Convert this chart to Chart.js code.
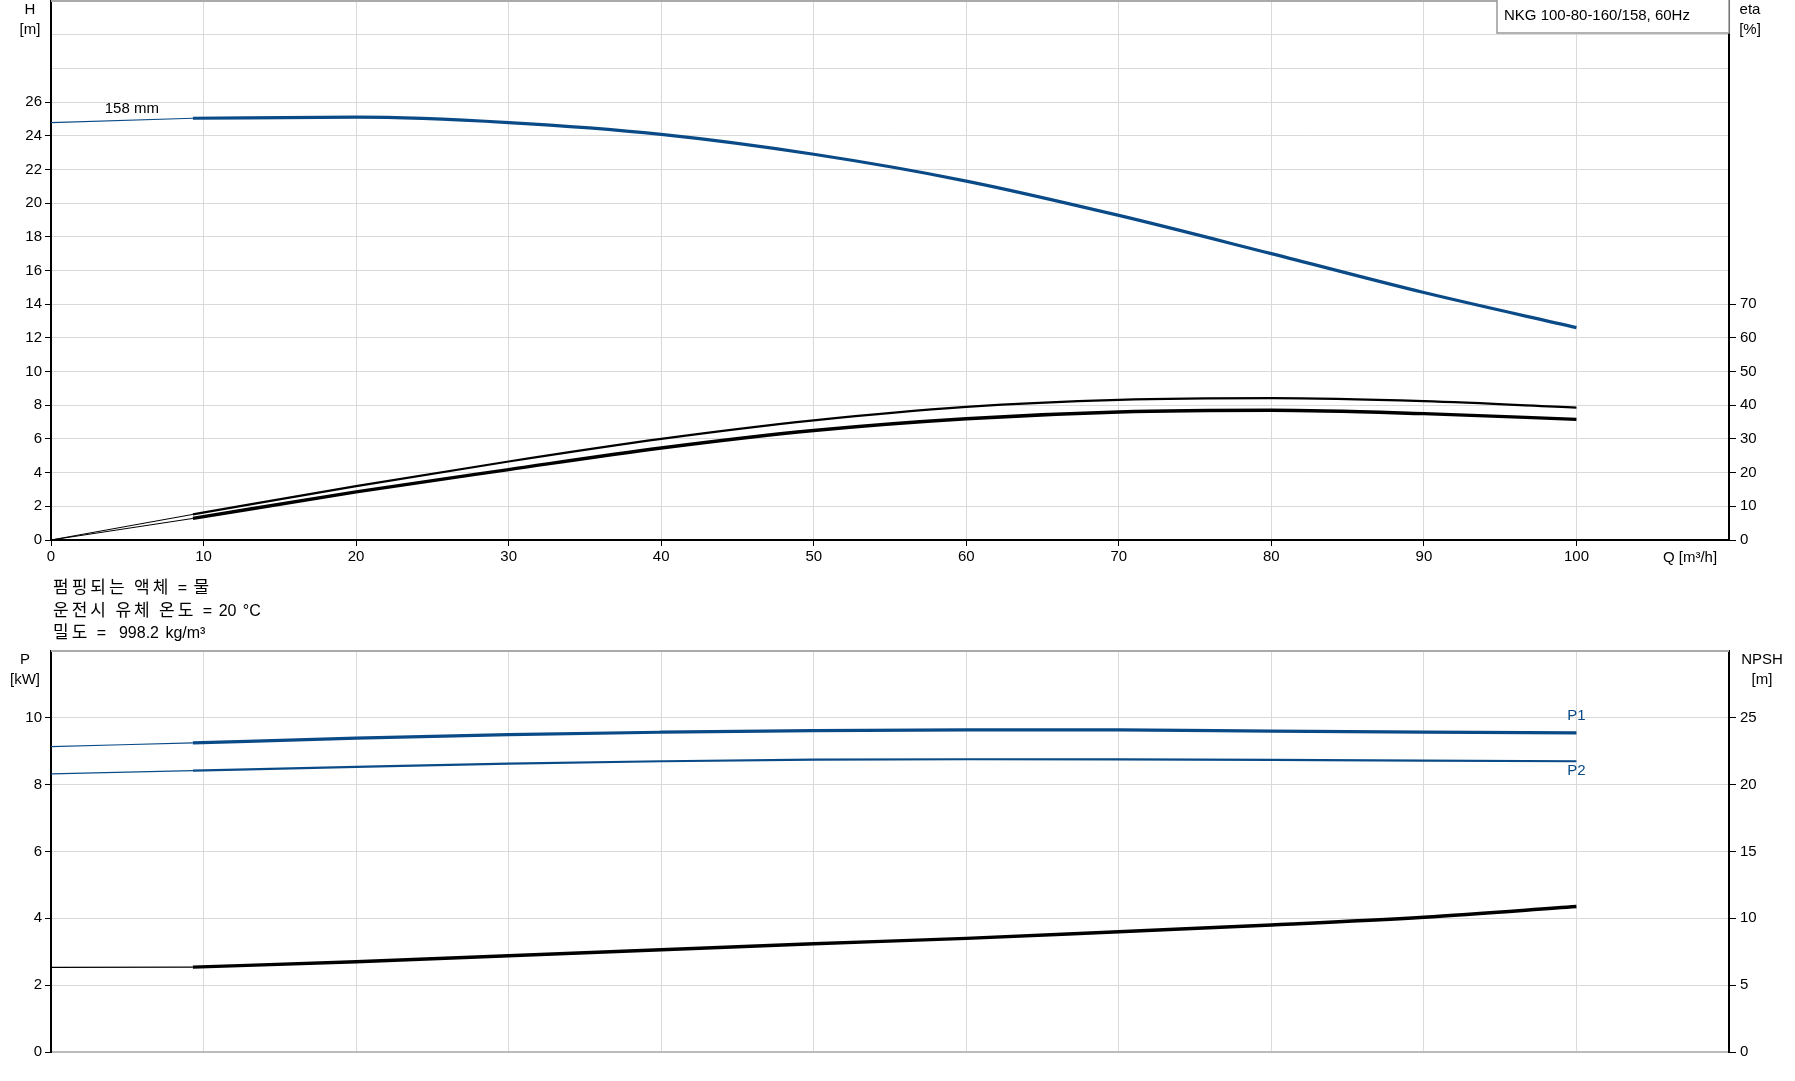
<!DOCTYPE html>
<html lang="ko">
<head>
<meta charset="UTF-8">
<title>NKG 100-80-160/158</title>
<script src="https://cdn.jsdelivr.net/npm/chart.js"></script>
<style>
  body { margin: 0; background: #fff; }
  canvas { position: absolute; left: 0; }
  #top-chart { top: 0; }
  #bottom-chart { top: 650px; }
  #notes {
    position: absolute; left: 53px; top: 575px;
    font: 16px/22px "Liberation Sans", Arial, sans-serif;
    word-spacing: 2px; color: #000; white-space: pre;
  }
  #notes div { height: 22.5px; }
  #notes .ko { font-family: "Noto Sans CJK KR", sans-serif; font-size: 17px; letter-spacing: 3px; }
</style>
</head>
<body>
<canvas id="top-chart" width="1795" height="650"></canvas>
<canvas id="bottom-chart" width="1795" height="431"></canvas>
<div id="notes"></div>

<script>
// flow points: thin part (outside range) and thick part
const qLow = [0, 9.3];
const qMain = [9.3, 20, 30, 40, 50, 60, 70, 80, 90, 100];

// head H [m]
const headLow = [24.78, 25.04];
const headMain = [25.04, 25.1, 24.78, 24.08, 22.9, 21.31, 19.27, 17.0, 14.69, 12.61];

// efficiencies [%]
const etaLow = [0, 7.6];
const etaMain = [7.6, 16.0, 23.3, 30.0, 35.5, 39.5, 41.6, 42.1, 41.2, 39.3];
const etaTotLow = [0, 6.4];
const etaTotMain = [6.4, 14.3, 20.9, 27.3, 32.5, 36.0, 38.0, 38.5, 37.5, 35.8];

// power [kW]
const p1Low = [9.14, 9.25];
const p1Main = [9.25, 9.39, 9.50, 9.57, 9.62, 9.64, 9.64, 9.60, 9.57, 9.55];
const p2Low = [8.32, 8.42];
const p2Main = [8.42, 8.53, 8.63, 8.70, 8.75, 8.76, 8.755, 8.74, 8.72, 8.70];

// NPSH [m]
const npshLow = [6.33, 6.35];
const npshMain = [6.35, 6.75, 7.2, 7.65, 8.1, 8.5, 9.0, 9.5, 10.08, 10.88];

const fluidNotes = ['펌핑되는 액체 = 물', '운전시 유체 온도 = 20 °C', '밀도 =  998.2 kg/m³'];

const BLUE = '#0a4b87';
const GRID = '#d9d9d9';
const FONT = '"Liberation Sans", Arial, sans-serif';

function pts(xs, ys) {
    return xs.map((x, i) => ({ x: x, y: ys[i] }));
}

function line(xs, ys, color, width, axis) {
    return {
        data: pts(xs, ys),
        borderColor: color,
        borderWidth: width,
        pointRadius: 0,
        cubicInterpolationMode: 'monotone',
        yAxisID: axis,
        fill: false
    };
}

function tickFont() {
    return { family: FONT, size: 15 };
}

// hide label + tick mark above a limit
function limitTicks(limit) {
    return {
        labels: v => (v <= limit ? v : ''),
        color: c => (c.tick && c.tick.value <= limit ? '#000' : 'rgba(0,0,0,0)')
    };
}

// fixed axis width, no extra room for the end labels
function fixWidth(w) {
    return s => {
        s.width = w;
        s.paddingTop = 0;
        s.paddingBottom = 0;
    };
}

function text(ctx, str, x, y, align, color, size, family) {
    ctx.save();
    ctx.font = size + 'px ' + (family || FONT);
    ctx.fillStyle = color || '#000';
    ctx.textAlign = align || 'center';
    ctx.textBaseline = 'middle';
    ctx.fillText(str, x, y);
    ctx.restore();
}

// fluid notes below the upper chart (hangul runs get their own spacing)
const notes = document.getElementById('notes');
fluidNotes.forEach(s => {
    const row = document.createElement('div');
    s.split(/([\uAC00-\uD7A3]+)/).forEach(run => {
        if (!run) return;
        if (/[\uAC00-\uD7A3]/.test(run)) {
            const sp = document.createElement('span');
            sp.className = 'ko';
            sp.textContent = run;
            row.appendChild(sp);
        } else {
            row.appendChild(document.createTextNode(run));
        }
    });
    notes.appendChild(row);
});

// ---------- upper chart: H and eta ----------
const hLim = limitTicks(26);
const etaLim = limitTicks(70);
const qLim = limitTicks(100);

const topLabels = {
    id: 'topLabels',
    afterDraw(chart) {
        const ctx = chart.ctx;
        const a = chart.chartArea;
        const xs = chart.scales.x;
        const yh = chart.scales.yH;

        // grey top border
        ctx.save();
        ctx.strokeStyle = '#aaa';
        ctx.lineWidth = 2;
        ctx.beginPath();
        ctx.moveTo(a.left, a.top);
        ctx.lineTo(a.right, a.top);
        ctx.stroke();

        // model box
        ctx.fillStyle = '#fff';
        ctx.fillRect(1497, 0, a.right - 1497, 33);
        ctx.strokeStyle = '#999';
        ctx.lineWidth = 1.5;
        ctx.strokeRect(1497, -1, a.right - 1497, 34);
        ctx.restore();
        text(ctx, 'NKG 100-80-160/158, 60Hz', 1504, 16, 'left', '#000', 15);

        text(ctx, 'H', 30, 10);
        text(ctx, '[m]', 30, 30);
        text(ctx, 'eta', 1750, 10);
        text(ctx, '[%]', 1750, 30);
        text(ctx, 'Q [m³/h]', 1690, 558);

        text(ctx, '158 mm', xs.getPixelForValue(5.3), yh.getPixelForValue(25.6));
    }
};

new Chart(document.getElementById('top-chart'), {
    type: 'line',
    data: {
        datasets: [
            line(qLow, headLow, BLUE, 1.2, 'yH'),
            line(qMain, headMain, BLUE, 3.2, 'yH'),
            line(qLow, etaLow, '#000', 1, 'yEta'),
            line(qMain, etaMain, '#000', 2.2, 'yEta'),
            line(qLow, etaTotLow, '#000', 1, 'yEta'),
            line(qMain, etaTotMain, '#000', 3.4, 'yEta')
        ]
    },
    options: {
        responsive: false,
        devicePixelRatio: 1,
        animation: false,
        layout: { padding: { top: 1, left: 0, right: 0, bottom: 0 } },
        plugins: { legend: { display: false }, tooltip: { enabled: false } },
        scales: {
            x: {
                type: 'linear',
                min: 0, max: 110,
                ticks: { stepSize: 10, callback: qLim.labels, font: tickFont(), color: '#000', padding: 2, maxRotation: 0 },
                grid: { color: GRID, tickLength: 6, tickColor: qLim.color },
                border: { color: '#000', width: 2 },
                afterFit: s => { s.height = 110; s.paddingLeft = 0; s.paddingRight = 0; }
            },
            yH: {
                position: 'left',
                min: 0, max: 32,
                ticks: { stepSize: 2, callback: hLim.labels, font: tickFont(), color: '#000', padding: 3 },
                grid: { color: GRID, tickLength: 6, tickColor: hLim.color },
                border: { color: '#000', width: 2 },
                afterFit: fixWidth(51)
            },
            yEta: {
                position: 'right',
                min: 0, max: 160,
                ticks: { stepSize: 10, callback: etaLim.labels, font: tickFont(), color: '#000', padding: 4 },
                grid: { drawOnChartArea: false, tickLength: 7, tickColor: etaLim.color },
                border: { color: '#000', width: 2 },
                afterFit: fixWidth(66)
            }
        }
    },
    plugins: [topLabels]
});

// ---------- lower chart: P and NPSH ----------
const pLim = limitTicks(10);
const nLim = limitTicks(25);

const bottomLabels = {
    id: 'bottomLabels',
    afterDraw(chart) {
        const ctx = chart.ctx;
        const a = chart.chartArea;
        const xs = chart.scales.x;
        const yp = chart.scales.yP;

        ctx.save();
        ctx.strokeStyle = '#aaa';
        ctx.lineWidth = 2;
        ctx.beginPath();
        ctx.moveTo(a.left, a.top);
        ctx.lineTo(a.right, a.top);
        ctx.stroke();
        ctx.restore();

        text(ctx, 'P', 25, 10);
        text(ctx, '[kW]', 25, 30);
        text(ctx, 'NPSH', 1762, 10);
        text(ctx, '[m]', 1762, 30);

        text(ctx, 'P1', xs.getPixelForValue(100), yp.getPixelForValue(10.05), 'center', BLUE, 15);
        text(ctx, 'P2', xs.getPixelForValue(100), yp.getPixelForValue(8.42), 'center', BLUE, 15);
    }
};

new Chart(document.getElementById('bottom-chart'), {
    type: 'line',
    data: {
        datasets: [
            line(qLow, p1Low, BLUE, 1.2, 'yP'),
            line(qMain, p1Main, BLUE, 3.2, 'yP'),
            line(qLow, p2Low, BLUE, 1.2, 'yP'),
            line(qMain, p2Main, BLUE, 2.2, 'yP'),
            line(qLow, npshLow, '#000', 1.2, 'yN'),
            line(qMain, npshMain, '#000', 3.4, 'yN')
        ]
    },
    options: {
        responsive: false,
        devicePixelRatio: 1,
        animation: false,
        layout: { padding: { top: 1, left: 0, right: 0, bottom: 0 } },
        plugins: { legend: { display: false }, tooltip: { enabled: false } },
        scales: {
            x: {
                type: 'linear',
                min: 0, max: 110,
                ticks: { stepSize: 10, display: false },
                grid: { color: GRID, drawTicks: false },
                border: { color: '#bbb', width: 2 },
                afterFit: s => { s.height = 29; s.paddingLeft = 0; s.paddingRight = 0; }
            },
            yP: {
                position: 'left',
                min: 0, max: 12,
                ticks: { stepSize: 2, callback: pLim.labels, font: tickFont(), color: '#000', padding: 3 },
                grid: { color: GRID, tickLength: 6, tickColor: pLim.color },
                border: { color: '#000', width: 2 },
                afterFit: fixWidth(51)
            },
            yN: {
                position: 'right',
                min: 0, max: 30,
                ticks: { stepSize: 5, callback: nLim.labels, font: tickFont(), color: '#000', padding: 4 },
                grid: { drawOnChartArea: false, tickLength: 7, tickColor: nLim.color },
                border: { color: '#000', width: 2 },
                afterFit: fixWidth(66)
            }
        }
    },
    plugins: [bottomLabels]
});
</script>
</body>
</html>
